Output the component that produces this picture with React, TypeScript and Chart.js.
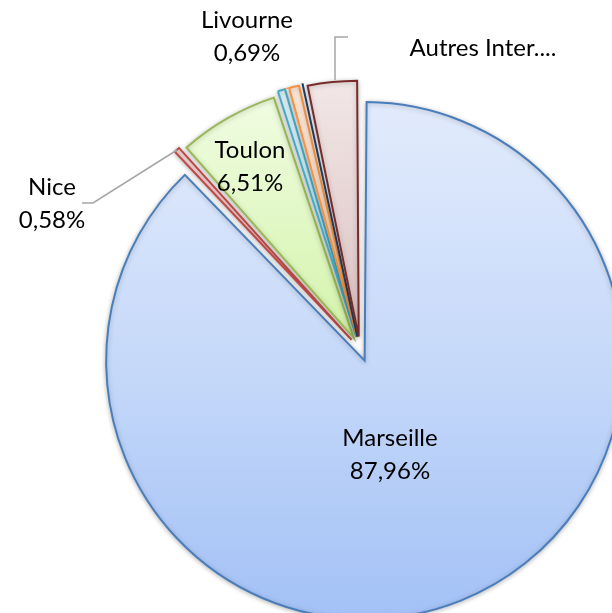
import React, { useEffect, useRef } from "react";
import { Chart, registerables } from "chart.js";

Chart.register(...registerables);

// ---- data ----
const categories = ["Marseille", "Nice", "Toulon", "Livourne", "Autres 1", "Autres 2", "Autres Inter...."];
const values = [87.96, 0.58, 6.51, 0.69, 0.85, 0.2, 3.3];
const showValue = [true, true, true, true, false, false, false];
const showLabel = [true, true, true, true, false, false, true];

// ---- styles ----
const CANVAS_W = 720;
const CANVAS_H = 698;
const RADIUS = 246;
const OFFSET = 50;
const FONT = "24px Lato, 'Open Sans', sans-serif";
const LINE_GAP = 32.5;

const fillStops: string[][] = [
  ["#e2ebfc", "#c6d9f9", "#a3c1f6"],
  ["#fde4e4", "#f5c4c4", "#eeaaaa"],
  ["#f2fde6", "#d4f3ab", "#bfe985"],
  ["#e4f7fd", "#c4ecf9", "#a8e0f3"],
  ["#feebdd", "#fbd4b8", "#f8bf96"],
  ["#d6dfed", "#b9c8de", "#9db0cf"],
  ["#f2e7e7", "#dcc1c1", "#cda8a8"],
];
const borderColors = ["#4a7ebb", "#be4b48", "#98b954", "#46aac5", "#f69240", "#243f60", "#772c2a"];

// label placement (relative to the pie centre), purely layout
const labelLayout: { [k: number]: { dx: number; dy: number } } = {
  0: { dx: 30, dy: 97 },
  1: { dx: -308, dy: -154 },
  2: { dx: -110, dy: -191 },
  3: { dx: -113, dy: -321 },
  6: { dx: 123, dy: -293 },
};

const fmt = (v: number) => v.toFixed(2).replace(".", ",") + "%";

const shadowPlugin = {
  id: "shadow",
  beforeDatasetsDraw(chart: any) {
    const ctx = chart.ctx;
    ctx.save();
    ctx.shadowColor = "rgba(0,0,0,0.25)";
    ctx.shadowBlur = 5;
    ctx.shadowOffsetX = 0;
    ctx.shadowOffsetY = 1;
  },
  afterDatasetsDraw(chart: any) {
    chart.ctx.restore();
  },
};

const labelPlugin = {
  id: "pieLabels",
  afterDraw(chart: any) {
    const ctx = chart.ctx;
    const a = chart.chartArea;
    const cx = (a.left + a.right) / 2;
    const cy = (a.top + a.bottom) / 2;
    ctx.save();
    // leader lines
    ctx.strokeStyle = "#a6a6a6";
    ctx.lineWidth = 1.5;
    ctx.beginPath();
    ctx.moveTo(cx - 278, cy - 146);
    ctx.lineTo(cx - 267, cy - 146);
    ctx.lineTo(cx - 183, cy - 199);
    ctx.stroke();
    ctx.beginPath();
    ctx.moveTo(cx - 25, cy - 269);
    ctx.lineTo(cx - 25, cy - 312);
    ctx.lineTo(cx - 12, cy - 312);
    ctx.stroke();

    ctx.font = FONT;
    ctx.fillStyle = "#000";
    ctx.textAlign = "center";
    ctx.textBaseline = "alphabetic";
    categories.forEach((name, i) => {
      const l = labelLayout[i];
      if (!l || !showLabel[i]) return;
      const x = cx + l.dx;
      let y = cy + l.dy;
      ctx.fillText(name, x, y);
      if (showValue[i]) {
        y += LINE_GAP;
        ctx.fillText(fmt(values[i]), x, y);
      }
    });
    ctx.restore();
  },
};

export default function App() {
  const ref = useRef<HTMLCanvasElement | null>(null);
  useEffect(() => {
    if (!ref.current) return;
    const chart = new Chart(ref.current, {
      type: "pie",
      data: {
        labels: categories,
        datasets: [
          {
            data: values,
            backgroundColor: (c: any) => {
              const i = c.dataIndex ?? 0;
              const chartObj = c.chart;
              const area = chartObj.chartArea;
              if (!area) return fillStops[i][1];
              const cy = (area.top + area.bottom) / 2;
              const g = chartObj.ctx.createLinearGradient(0, cy - RADIUS - 12, 0, cy + RADIUS + 12);
              g.addColorStop(0, fillStops[i][0]);
              g.addColorStop(0.5, fillStops[i][1]);
              g.addColorStop(1, fillStops[i][2]);
              return g;
            },
            borderColor: borderColors,
            borderWidth: 2,
            borderJoinStyle: "miter",
            offset: OFFSET,
            clip: false,
          } as any,
        ],
      },
      options: {
        responsive: false,
        maintainAspectRatio: false,
        animation: false,
        radius: RADIUS,
        layout: { padding: 0 },
        plugins: {
          legend: { display: false },
          tooltip: { enabled: false },
        },
      } as any,
      plugins: [shadowPlugin, labelPlugin],
    });
    return () => chart.destroy();
  }, []);

  return (
    <div
      style={{
        position: "absolute",
        left: 0,
        top: 0,
        width: 612,
        height: 613,
        overflow: "hidden",
        background: "#ffffff",
      }}
    >
      <canvas ref={ref} width={CANVAS_W} height={CANVAS_H} style={{ width: CANVAS_W, height: CANVAS_H, display: "block" }} />
    </div>
  );
}
